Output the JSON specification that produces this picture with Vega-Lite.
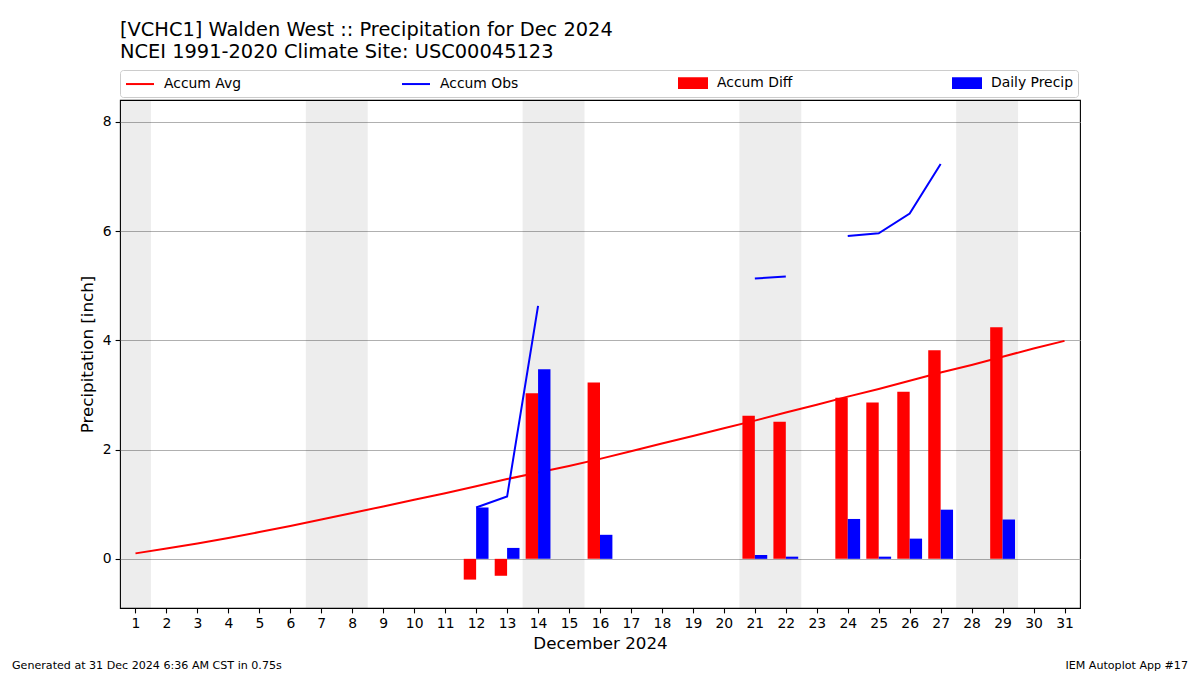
{
  "$schema": "https://vega.github.io/schema/vega-lite/v6.json",
  "width": 960,
  "height": 508,
  "autosize": "none",
  "padding": {"left": 120, "top": 100, "right": 120, "bottom": 67},
  "background": "white",
  "config": {
    "font": "DejaVu Sans",
    "view": {"stroke": "black", "strokeWidth": 1.1},
    "scale": {"continuousPadding": 0},
    "axis": {
      "domain": false,
      "tickColor": "black",
      "tickWidth": 1.1,
      "tickSize": 4.9,
      "labelColor": "black",
      "labelFontSize": 13.9,
      "labelPadding": 4,
      "titleColor": "black",
      "titleFontSize": 16.7,
      "titleFontWeight": "normal"
    },
    "axisX": {"labelOverlap": false, "labelSeparation": -20, "labelFlush": false}
  },
  "title": {
    "text": ["[VCHC1] Walden West :: Precipitation for Dec 2024", "NCEI 1991-2020 Climate Site: USC00045123"],
    "anchor": "start",
    "frame": "group",
    "fontSize": 19.4,
    "fontWeight": "normal",
    "color": "black",
    "lineHeight": 22,
    "offset": 7
  },
  "datasets": {
    "daily": [
      {"day": 1, "avg": 0.10, "obs": null, "diff": null, "precip": null},
      {"day": 2, "avg": 0.19, "obs": null, "diff": null, "precip": null},
      {"day": 3, "avg": 0.28, "obs": null, "diff": null, "precip": null},
      {"day": 4, "avg": 0.38, "obs": null, "diff": null, "precip": null},
      {"day": 5, "avg": 0.49, "obs": null, "diff": null, "precip": null},
      {"day": 6, "avg": 0.60, "obs": null, "diff": null, "precip": null},
      {"day": 7, "avg": 0.72, "obs": null, "diff": null, "precip": null},
      {"day": 8, "avg": 0.84, "obs": null, "diff": null, "precip": null},
      {"day": 9, "avg": 0.96, "obs": null, "diff": null, "precip": null},
      {"day": 10, "avg": 1.08, "obs": null, "diff": null, "precip": null},
      {"day": 11, "avg": 1.20, "obs": null, "diff": null, "precip": null},
      {"day": 12, "avg": 1.33, "obs": 0.94, "diff": -0.38, "precip": 0.94},
      {"day": 13, "avg": 1.46, "obs": 1.14, "diff": -0.31, "precip": 0.20},
      {"day": 14, "avg": 1.58, "obs": 4.63, "diff": 3.03, "precip": 3.47},
      {"day": 15, "avg": 1.70, "obs": null, "diff": null, "precip": null},
      {"day": 16, "avg": 1.83, "obs": null, "diff": 3.23, "precip": 0.44},
      {"day": 17, "avg": 1.97, "obs": null, "diff": null, "precip": null},
      {"day": 18, "avg": 2.11, "obs": null, "diff": null, "precip": null},
      {"day": 19, "avg": 2.25, "obs": null, "diff": null, "precip": null},
      {"day": 20, "avg": 2.39, "obs": null, "diff": null, "precip": null},
      {"day": 21, "avg": 2.53, "obs": 5.13, "diff": 2.62, "precip": 0.07},
      {"day": 22, "avg": 2.68, "obs": 5.17, "diff": 2.51, "precip": 0.04},
      {"day": 23, "avg": 2.82, "obs": null, "diff": null, "precip": null},
      {"day": 24, "avg": 2.97, "obs": 5.91, "diff": 2.95, "precip": 0.73},
      {"day": 25, "avg": 3.11, "obs": 5.96, "diff": 2.86, "precip": 0.04},
      {"day": 26, "avg": 3.26, "obs": 6.32, "diff": 3.06, "precip": 0.37},
      {"day": 27, "avg": 3.41, "obs": 7.23, "diff": 3.82, "precip": 0.90},
      {"day": 28, "avg": 3.55, "obs": null, "diff": null, "precip": null},
      {"day": 29, "avg": 3.70, "obs": null, "diff": 4.24, "precip": 0.72},
      {"day": 30, "avg": 3.85, "obs": null, "diff": null, "precip": null},
      {"day": 31, "avg": 3.99, "obs": null, "diff": null, "precip": null}
    ],
    "weekend": [
      {"start": 0.5, "end": 1.5},
      {"start": 6.5, "end": 8.5},
      {"start": 13.5, "end": 15.5},
      {"start": 20.5, "end": 22.5},
      {"start": 27.5, "end": 29.5}
    ],
    "footer": [
      {"side": "left", "text": "Generated at 31 Dec 2024 6:36 AM CST in 0.75s"},
      {"side": "right", "text": "IEM Autoplot App #17"}
    ]
  },
  "layer": [
    {
      "data": {"name": "weekend"},
      "mark": {"type": "rect", "color": "#000000", "opacity": 0.07},
      "encoding": {
        "x": {
          "field": "start", "type": "quantitative",
          "scale": {"domain": [0.5, 31.5], "nice": false, "zero": false, "padding": 0},
          "axis": {
            "values": [1,2,3,4,5,6,7,8,9,10,11,12,13,14,15,16,17,18,19,20,21,22,23,24,25,26,27,28,29,30,31],
            "tickCount": 31,
            "title": "December 2024",
            "grid": false,
            "labelOverlap": false,
            "labelSeparation": -20,
            "labelFlush": false,
            "titlePadding": 5
          }
        },
        "x2": {"field": "end"}
      }
    },
    {
      "data": {"name": "daily"},
      "mark": {"type": "line", "strokeWidth": 2, "clip": true},
      "encoding": {
        "x": {
          "field": "day", "type": "quantitative",
          "scale": {"domain": [0.5, 31.5], "nice": false, "zero": false, "padding": 0},
          "axis": {
            "values": [1,2,3,4,5,6,7,8,9,10,11,12,13,14,15,16,17,18,19,20,21,22,23,24,25,26,27,28,29,30,31],
            "tickCount": 31,
            "title": "December 2024",
            "grid": false,
            "labelOverlap": false,
            "labelSeparation": -20,
            "labelFlush": false,
            "titlePadding": 5
          }
        },
        "y": {
          "field": "avg", "type": "quantitative",
          "scale": {"domain": [-0.9, 8.4], "nice": false, "zero": false, "padding": 0},
          "axis": {
            "values": [0, 2, 4, 6, 8],
            "title": "Precipitation [inch]",
            "grid": true,
            "gridColor": "#b0b0b0",
            "gridWidth": 1.1,
            "labelOverlap": false,
            "labelFlush": false,
            "titlePadding": 6
          }
        },
        "color": {
          "datum": "Accum Avg",
          "type": "nominal",
          "scale": {
            "domain": ["Accum Avg", "Accum Obs", "Accum Diff", "Daily Precip"],
            "range": ["#ff0000", "#0000ff", "#ff0000", "#0000ff"]
          },
          "legend": {
            "title": null,
            "orient": "none",
            "legendX": 0,
            "legendY": -30,
            "direction": "horizontal",
            "columns": 4,
            "columnPadding": 156,
            "padding": 5,
            "fillColor": "white",
            "strokeColor": "#cccccc",
            "cornerRadius": 3,
            "labelFontSize": 13.9,
            "labelColor": "black",
            "symbolSize": 196,
            "symbolOffset": 7,
            "labelOffset": 16,
            "encode": {
              "symbols": {
                "update": {
                  "shape": {"signal": "datum.value === 'Accum Avg' || datum.value === 'Accum Obs' ? 'M-2,0H2' : 'M-2,-0.7H2V0.7H-2Z'"},
                  "fill": {"signal": "datum.value === 'Accum Diff' ? '#ff0000' : datum.value === 'Daily Precip' ? '#0000ff' : 'transparent'"},
                  "stroke": {"signal": "datum.value === 'Accum Avg' ? '#ff0000' : datum.value === 'Accum Obs' ? '#0000ff' : 'transparent'"},
                  "strokeWidth": {"value": 2},
                  "opacity": {"value": 1},
                  "fillOpacity": {"value": 1},
                  "strokeOpacity": {"value": 1}
                }
              }
            }
          }
        }
      }
    },
    {
      "data": {"name": "daily"},
      "mark": {"type": "line", "strokeWidth": 2, "clip": true},
      "encoding": {
        "x": {"field": "day", "type": "quantitative"},
        "y": {"field": "obs", "type": "quantitative"},
        "color": {"datum": "Accum Obs", "type": "nominal"}
      }
    },
    {
      "data": {"name": "daily"},
      "mark": {"type": "bar", "width": 12.4, "xOffset": -6.2},
      "encoding": {
        "x": {"field": "day", "type": "quantitative"},
        "y": {"field": "diff", "type": "quantitative"},
        "color": {"datum": "Accum Diff", "type": "nominal"}
      }
    },
    {
      "data": {"name": "daily"},
      "mark": {"type": "bar", "width": 12.4, "xOffset": 6.2},
      "encoding": {
        "x": {"field": "day", "type": "quantitative"},
        "y": {"field": "precip", "type": "quantitative"},
        "color": {"datum": "Daily Precip", "type": "nominal"}
      }
    },
    {
      "data": {"name": "footer"},
      "transform": [{"filter": "datum.side === 'left'"}],
      "mark": {"type": "text", "align": "left", "baseline": "middle", "fontSize": 11.1, "color": "black", "dx": -108, "dy": 58},
      "encoding": {
        "x": {"datum": 0.5, "type": "quantitative"},
        "y": {"datum": -0.9, "type": "quantitative"},
        "text": {"field": "text"}
      }
    },
    {
      "data": {"name": "footer"},
      "transform": [{"filter": "datum.side === 'right'"}],
      "mark": {"type": "text", "align": "right", "baseline": "middle", "fontSize": 11.1, "color": "black", "dx": 108, "dy": 58},
      "encoding": {
        "x": {"datum": 31.5, "type": "quantitative"},
        "y": {"datum": -0.9, "type": "quantitative"},
        "text": {"field": "text"}
      }
    }
  ]
}
